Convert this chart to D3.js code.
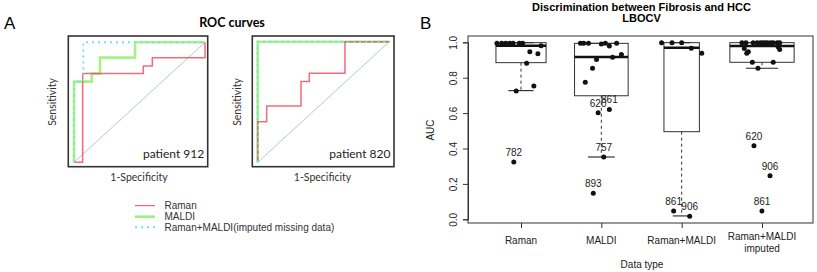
<!DOCTYPE html>
<html><head><meta charset="utf-8">
<script src="https://cdn.jsdelivr.net/npm/d3@7/dist/d3.min.js"></script>
<style>body{margin:0;background:#fff} svg{display:block}</style>
</head><body><svg id="c" width="817" height="272"></svg>
<script>
// ---------- Panel A data (ROC curves: [1-specificity, sensitivity]) ----------
const rocPatients = ["patient 912", "patient 820"];
const rocSeries = ["Raman", "MALDI", "Raman+MALDI(imputed missing data)"];
const roc912Raman = [[0,0],[0.066,0],[0.066,0.739],[0.529,0.739],[0.529,0.803],[0.598,0.803],[0.598,0.872],[1,0.872],[1,1]];
const roc912Maldi = [[0,0],[0,0.672],[0.135,0.672],[0.135,0.739],[0.198,0.739],[0.198,0.872],[0.466,0.872],[0.466,1],[1,1]];
const roc912Comb  = [[0,0],[0,0.672],[0.071,0.672],[0.071,1],[1,1]];
const roc820Raman = [[0,0],[0,0.337],[0.068,0.337],[0.068,0.467],[0.329,0.467],[0.329,0.669],[0.392,0.669],[0.392,0.738],[0.663,0.738],[0.663,1],[1,1]];
const roc820Maldi = [[0,0],[0,1],[1,1]];
const roc820Comb  = [[0,0],[0,1],[1,1]];

// ---------- Panel B data (AUC per data type) ----------
const categories = ["Raman", "MALDI", "Raman+MALDI", "Raman+MALDI\nimputed"];
const yTicks = [0, 0.2, 0.4, 0.6, 0.8, 1.0];
const boxQ1      = [0.885, 0.698, 0.495, 0.887];
const boxMedian  = [0.981, 0.917, 0.969, 0.979];
const boxQ3      = [0.998, 0.994, 0.998, 0.998];
const whiskerLow = [0.727, 0.352, 0.019, 0.853];
const whiskerHigh= [0.998, 0.994, 0.998, 0.998];

const aucRaman = [0.995,0.995,0.995,0.995,0.995,0.995,0.995,0.947,0.936,0.881,0.753,0.725,0.981,0.324];
const jitRaman = [-0.30,-0.24,-0.19,-0.14,-0.10,-0.02,0.02,0.11,0.21,0.07,0.16,-0.06,0.25,-0.09];
const lblRaman = ["","","","","","","","","","","","","","782"];

const aucMaldi = [0.995,0.995,0.995,0.995,0.995,0.990,0.979,0.915,0.931,0.903,0.853,0.774,0.602,0.621,0.352,0.147];
const jitMaldi = [-0.26,-0.16,0.05,0.19,-0.22,0.00,0.10,0.14,0.25,-0.06,-0.11,-0.20,-0.04,0.10,0.03,-0.10];
const lblMaldi = ["","","","","","","","","","","","","620","861","757","893"];

const aucComb = [0.998,0.998,0.998,0.966,0.938,0.047,0.017];
const jitComb = [-0.25,-0.12,0.00,0.12,0.25,-0.10,0.10];
const lblComb = ["","","","","","861","906"];

const aucImp = [0.998,0.998,0.998,0.998,0.998,0.998,0.998,0.998,0.998,0.998,0.998,0.998,0.965,0.938,0.947,0.960,0.975,0.887,0.887,0.853,0.416,0.246,0.047];
const jitImp = [-0.25,-0.20,-0.11,-0.06,-0.02,0.01,0.04,0.07,0.11,0.14,0.19,0.22,-0.22,-0.19,-0.17,0.22,0.20,-0.12,0.14,-0.05,-0.10,0.10,0.00];
const lblImp = ["","","","","","","","","","","","","","","","","","","","","620","906","861"];

const groups = [
  {auc: aucRaman, jit: jitRaman, lbl: lblRaman},
  {auc: aucMaldi, jit: jitMaldi, lbl: lblMaldi},
  {auc: aucComb,  jit: jitComb,  lbl: lblComb},
  {auc: aucImp,   jit: jitImp,   lbl: lblImp}
];

const svg = d3.select("#c");
const sansA = "Lato, 'Open Sans', sans-serif";
const arial = "'Liberation Sans', Arial, sans-serif";

// ================= Panel A =================
svg.append("text").attr("x", 4).attr("y", 29).attr("font-family", arial).attr("font-size", 17).text("A");
svg.append("text").attr("x", 232).attr("y", 27).attr("text-anchor", "middle").attr("font-family", sansA)
  .attr("font-weight", "bold").attr("font-size", 12.5).text("ROC curves");

const colRaman = "#f04658", colMaldi = "#9ef07a", colComb = "#6fe8d6", colDiag = "#b9c6d2";

const rocPanels = [
  {box: [68.3, 36, 207.7, 166.7], xr: [74, 205], yr: [162.3, 42.3], sets: [roc912Raman, roc912Maldi, roc912Comb], name: rocPatients[0], ylab: 52.5, xlab: 139},
  {box: [252.3, 36, 394, 166.7], xr: [257.7, 389.3], yr: [162.3, 41.7], sets: [roc820Raman, roc820Maldi, roc820Comb], name: rocPatients[1], ylab: 237.5, xlab: 322.5}
];

rocPanels.forEach(p => {
  const x = d3.scaleLinear().domain([0, 1]).range(p.xr);
  const y = d3.scaleLinear().domain([0, 1]).range(p.yr);
  const line = d3.line().x(d => x(d[0])).y(d => y(d[1]));
  const g = svg.append("g");
  g.append("rect").attr("x", p.box[0]).attr("y", p.box[1]).attr("width", p.box[2] - p.box[0]).attr("height", p.box[3] - p.box[1])
    .attr("fill", "#fff").attr("stroke", "#333").attr("stroke-width", 1.6);
  g.append("path").attr("d", line([[0,0],[1,1]])).attr("fill", "none").attr("stroke", colDiag).attr("stroke-width", 1);
  g.append("path").attr("d", line(p.sets[1])).attr("fill", "none").attr("stroke", colMaldi).attr("stroke-width", 2.6).attr("stroke-opacity", 0.9);
  g.append("path").attr("d", line(p.sets[0])).attr("fill", "none").attr("stroke", colRaman).attr("stroke-width", 1.5).attr("stroke-opacity", 0.8);
  g.append("path").attr("d", line(p.sets[2])).attr("fill", "none").attr("stroke", colComb).attr("stroke-width", 2).attr("stroke-dasharray", "2,4");
  g.append("text").attr("x", p.box[2] - 3.5).attr("y", 158.3).attr("text-anchor", "end").attr("font-family", sansA)
    .attr("font-size", 12).attr("fill", "#222").text(p.name);
  g.append("text").attr("transform", `translate(${p.ylab + 3.5},102) rotate(-90)`).attr("text-anchor", "middle")
    .attr("font-family", sansA).attr("font-size", 10.5).attr("fill", "#333").text("Sensitivity");
  g.append("text").attr("x", p.xlab).attr("y", 181).attr("text-anchor", "middle")
    .attr("font-family", sansA).attr("font-size", 10.5).attr("fill", "#333").text("1-Specificity");
});

// legend
const legY = [205.7, 216.7, 227.3];
const legStyles = [
  {c: colRaman, w: 1, d: null},
  {c: colMaldi, w: 2.6, d: null},
  {c: colComb, w: 2, d: "2,4"}
];
rocSeries.forEach((s, i) => {
  const l = svg.append("line").attr("x1", 135).attr("x2", 155).attr("y1", legY[i]).attr("y2", legY[i])
    .attr("stroke", legStyles[i].c).attr("stroke-width", legStyles[i].w);
  if (legStyles[i].d) l.attr("stroke-dasharray", legStyles[i].d);
  svg.append("text").attr("x", 164.5).attr("y", legY[i] + 3.6).attr("font-family", arial).attr("font-size", 10)
    .attr("fill", "#333").text(s);
});

// ================= Panel B =================
svg.append("text").attr("x", 420).attr("y", 29).attr("font-family", arial).attr("font-size", 17).text("B");
svg.append("text").attr("x", 641.5).attr("y", 10.5).attr("text-anchor", "middle").attr("font-family", arial)
  .attr("font-weight", "bold").attr("font-size", 11).text("Discrimination between Fibrosis and HCC");
svg.append("text").attr("x", 641.5).attr("y", 21.5).attr("text-anchor", "middle").attr("font-family", arial)
  .attr("font-weight", "bold").attr("font-size", 11).text("LBOCV");

const X = d3.scaleLinear().domain([0.34, 4.635]).range([468, 813]);
const Y = d3.scaleLinear().domain([0, 1]).range([219.3, 42.3]);
const unit = X(1) - X(0);
const maxN = d3.max(groups, g => g.auc.length);

const gB = svg.append("g");
gB.append("rect").attr("x", 468).attr("y", 36).attr("width", 813 - 468).attr("height", 223 - 36)
  .attr("fill", "none").attr("stroke", "#333").attr("stroke-width", 1);

// y axis
const yAxis = gB.append("g").attr("transform", "translate(468,0)")
  .call(d3.axisLeft(Y).tickValues(yTicks).tickSize(5).tickPadding(3).tickFormat(d3.format(".1f")));
yAxis.select(".domain").attr("stroke", "#333");
yAxis.selectAll(".tick line").attr("stroke", "#333");
yAxis.selectAll(".tick text").attr("font-family", arial).attr("font-size", 10).attr("fill", "#222")
  .attr("transform", "rotate(-90)").attr("x", 0).attr("y", -11).attr("dy", 0).attr("text-anchor", "middle");

// x axis
const xAxis = gB.append("g").attr("transform", "translate(0,223)")
  .call(d3.axisBottom(X).tickValues([1, 2, 3, 4]).tickSize(5).tickFormat(""));
xAxis.select(".domain").remove();
xAxis.selectAll(".tick line").attr("stroke", "#333");
categories.forEach((c, i) => {
  const lines = c.split("\n");
  const base = lines.length === 1 ? 244 : 240.3;
  lines.forEach((t, k) => {
    gB.append("text").attr("x", X(i + 1)).attr("y", base + k * 11.3).attr("text-anchor", "middle")
      .attr("font-family", arial).attr("font-size", 10).attr("fill", "#222").text(t);
  });
});
gB.append("text").attr("x", 642).attr("y", 267.5).attr("text-anchor", "middle").attr("font-family", arial)
  .attr("font-size", 10).attr("fill", "#222").text("Data type");
gB.append("text").attr("transform", "translate(434,130) rotate(-90)").attr("text-anchor", "middle")
  .attr("font-family", arial).attr("font-size", 10).attr("fill", "#222").text("AUC");

// boxes
groups.forEach((g, i) => {
  const cx = X(i + 1);
  const hw = 0.4 * Math.sqrt(g.auc.length / maxN) * unit;
  const bg = gB.append("g");
  // whiskers
  bg.append("line").attr("x1", cx).attr("x2", cx).attr("y1", Y(boxQ1[i])).attr("y2", Y(whiskerLow[i]))
    .attr("stroke", "#333").attr("stroke-dasharray", "3,3");
  bg.append("line").attr("x1", cx).attr("x2", cx).attr("y1", Y(boxQ3[i])).attr("y2", Y(whiskerHigh[i]))
    .attr("stroke", "#333").attr("stroke-dasharray", "3,3");
  bg.append("line").attr("x1", cx - hw / 2).attr("x2", cx + hw / 2).attr("y1", Y(whiskerLow[i])).attr("y2", Y(whiskerLow[i]))
    .attr("stroke", "#222").attr("stroke-width", 1.1);
  bg.append("line").attr("x1", cx - hw / 2).attr("x2", cx + hw / 2).attr("y1", Y(whiskerHigh[i])).attr("y2", Y(whiskerHigh[i]))
    .attr("stroke", "#222").attr("stroke-width", 1.1);
  bg.append("rect").attr("x", cx - hw).attr("y", Y(boxQ3[i])).attr("width", 2 * hw).attr("height", Y(boxQ1[i]) - Y(boxQ3[i]))
    .attr("fill", "none").attr("stroke", "#333").attr("stroke-width", 1);
  bg.append("line").attr("x1", cx - hw).attr("x2", cx + hw).attr("y1", Y(boxMedian[i])).attr("y2", Y(boxMedian[i]))
    .attr("stroke", "#111").attr("stroke-width", 2.5);
  // points
  g.auc.forEach((v, k) => {
    const px = X(i + 1 + g.jit[k]), py = Y(v);
    bg.append("circle").attr("cx", px).attr("cy", py).attr("r", 2.5).attr("fill", "#111");
    if (g.lbl[k]) {
      bg.append("text").attr("x", px).attr("y", py - 6).attr("text-anchor", "middle").attr("font-family", arial)
        .attr("font-size", 10).attr("fill", "#222").text(g.lbl[k]);
    }
  });
});
</script>
</body></html>
